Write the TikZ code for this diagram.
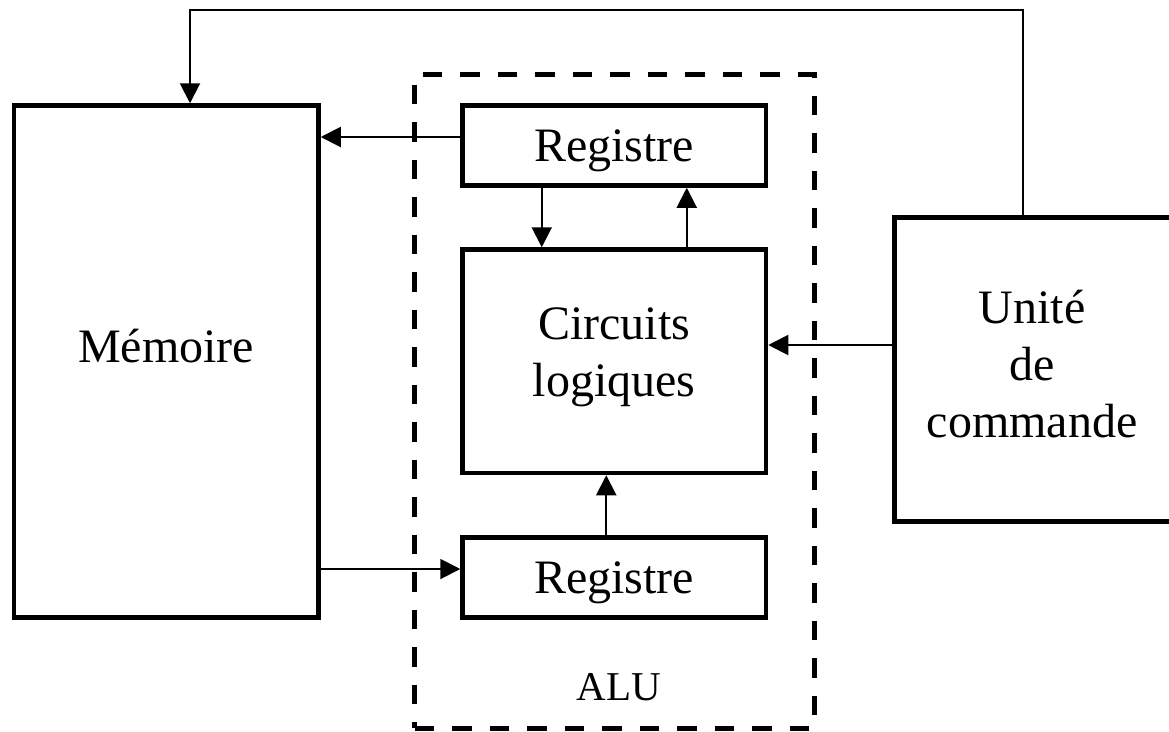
\documentclass[tikz,border=0pt]{standalone}
\usepackage{fontspec}
\setmainfont{Liberation Serif}
\usetikzlibrary{arrows.meta,calc}
\begin{document}
\begin{tikzpicture}[x=1pt,y=-1pt,
  box/.style={draw,line width=4.5pt,rectangle,inner sep=0pt},
  txt/.style={inner sep=0pt,align=center,font=\fontsize{48}{57}\selectfont},
  alubox/.style={draw,line width=5pt,rectangle,inner sep=0pt,dash pattern=on 19.5pt off 18pt},
  arr/.style={line width=2pt,-{Triangle[length=20pt,width=20pt]}},
  lbl/.style={inner sep=0pt,font=\fontsize{41}{45}\selectfont}]
\useasboundingbox (0,0) rectangle (1169,731);
\fill[white] (0,0) rectangle (1169,731);
% ALU dashed frame
\node[alubox,minimum width=399.5pt,minimum height=653.5pt] (alu) at (614.25,401.25) {};
\node[lbl,anchor=base] (alulbl) at (619,700.5) {ALU};
% boxes
\node[box,minimum width=304.5pt,minimum height=512pt] (mem) at (166.25,361.5) {};
\node[box,minimum width=303.5pt,minimum height=80pt] (r1) at (614.25,145.5) {};
\node[box,minimum width=303.5pt,minimum height=223.5pt] (circ) at (614.25,361.25) {};
\node[box,minimum width=303.5pt,minimum height=80pt] (r2) at (614.25,577.5) {};
\node[box,minimum width=277.5pt,minimum height=304pt] (u) at (1033.25,369.5) {};
% box texts
\node[txt] (memtxt) at ([yshift=15pt]mem.center) {Mémoire};
\node[txt] (r1txt) at ([yshift=-5pt]r1.center) {Registre};
\node[txt] (circtxt) at ([yshift=4pt]circ.center) {Circuits\\logiques};
\node[txt] (r2txt) at ([yshift=-5pt]r2.center) {Registre};
\node[txt] (utxt) at ([yshift=5pt,xshift=-1pt]u.center) {Unité\\de\\commande};
% feedback loop
\coordinate (fb1) at (1022.7,9.5);
\coordinate (fb2) at (190,9.5);
\draw[arr] (u.north -| fb1) -- (fb1) -- (fb2) -- (fb2 |- mem.north);
% connections
\draw[arr] ([yshift=8.5pt]r1.west) -- ([yshift=8.5pt]r1.west -| mem.east);
\draw[arr] ([xshift=-72.5pt]r1.south) -- ([xshift=-72.5pt]circ.north);
\draw[arr] ([xshift=72.5pt]circ.north) -- ([xshift=72.5pt]r1.south);
\draw[arr] ([xshift=-8pt]r2.north) -- ([xshift=-8pt]circ.south);
\draw[arr] ([yshift=8.5pt]r2.west -| mem.east) -- ([yshift=8.5pt]r2.west);
\draw[arr] ([yshift=24.5pt]u.west) -- ([yshift=24.5pt]u.west -| circ.east);
\end{tikzpicture}
\end{document}
